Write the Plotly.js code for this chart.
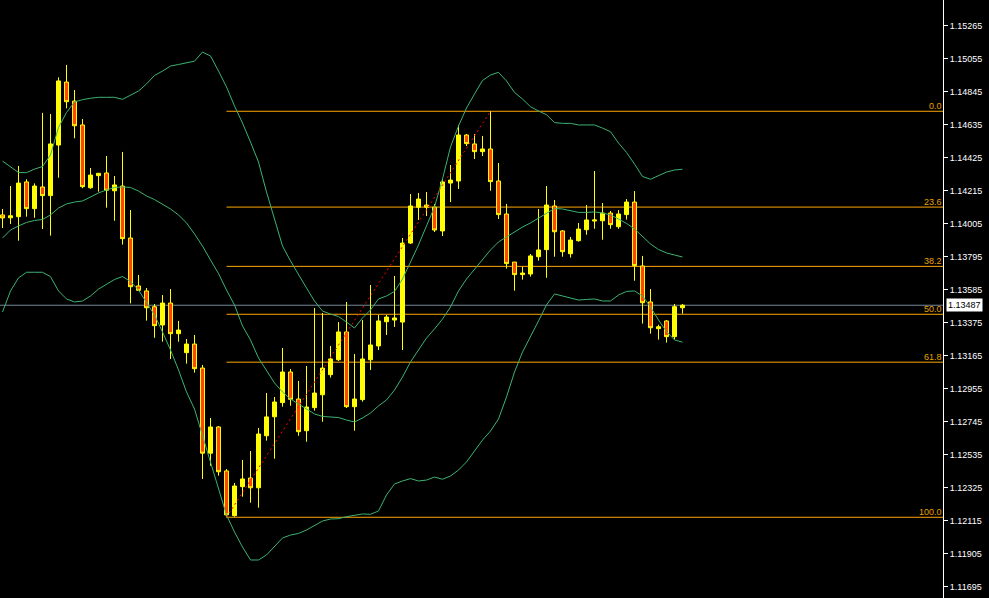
<!DOCTYPE html>
<html>
<head>
<meta charset="utf-8">
<script src="https://cdn.plot.ly/plotly-3.0.1.min.js"></script>
<style>
  html, body { margin: 0; padding: 0; background: #000; }
  #chart { width: 989px; height: 598px; }
</style>
</head>
<body>
<div id="chart"></div>
<script>
// EURUSD-style candles, one bar per index
const open = [
  1.14062, 1.14044, 1.14051, 1.14272, 1.14102, 1.14240, 1.14185, 1.14507, 1.14908, 1.14787,
  1.14635, 1.14235, 1.14312, 1.14329, 1.14216, 1.14246, 1.13915, 1.13610, 1.13578, 1.13478,
  1.13361, 1.13501, 1.13306, 1.13185, 1.13240, 1.13087, 1.12545, 1.12712, 1.12432, 1.12147,
  1.12332, 1.12387, 1.12325, 1.12656, 1.12777, 1.12867, 1.13062, 1.12890, 1.12688, 1.12835,
  1.12917, 1.13045, 1.13140, 1.13317, 1.12841, 1.12886, 1.13140, 1.13228, 1.13382, 1.13393,
  1.13380, 1.13883, 1.14111, 1.14125, 1.14112, 1.13960, 1.14265, 1.14278, 1.14571, 1.14514,
  1.14465, 1.14482, 1.14278, 1.14068, 1.13762, 1.13682, 1.13686, 1.13796, 1.13841, 1.14119,
  1.13960, 1.13815, 1.13898, 1.13968, 1.14023, 1.14025, 1.14074, 1.13987, 1.14064, 1.14144,
  1.13737, 1.13508, 1.13338, 1.13387, 1.13287, 1.13471
];
const high = [
  1.14100, 1.14246, 1.14374, 1.14289, 1.14263, 1.14712, 1.14705, 1.14938, 1.15017, 1.14857,
  1.14673, 1.14361, 1.14327, 1.14437, 1.14310, 1.14463, 1.14093, 1.13680, 1.13597, 1.13495,
  1.13552, 1.13590, 1.13387, 1.13272, 1.13298, 1.13107, 1.12769, 1.12718, 1.12444, 1.12355,
  1.12502, 1.12559, 1.12705, 1.12928, 1.12903, 1.13215, 1.13081, 1.13005, 1.13100, 1.13469,
  1.13438, 1.13228, 1.13380, 1.13508, 1.13177, 1.13393, 1.13616, 1.13425, 1.13425, 1.13673,
  1.13915, 1.14195, 1.14202, 1.14208, 1.14132, 1.14291, 1.14380, 1.14635, 1.14577, 1.14577,
  1.14565, 1.14722, 1.14393, 1.14132, 1.13762, 1.13732, 1.13813, 1.14100, 1.14246, 1.14157,
  1.13966, 1.13922, 1.14011, 1.14125, 1.14342, 1.14138, 1.14087, 1.14093, 1.14163, 1.14214,
  1.13801, 1.13590, 1.13363, 1.13393, 1.13495, 1.13495
];
const low = [
  1.13979, 1.14004, 1.13898, 1.14051, 1.14044, 1.13972, 1.13930, 1.14299, 1.14741, 1.14550,
  1.14232, 1.14229, 1.14210, 1.14108, 1.14025, 1.13873, 1.13499, 1.13578, 1.13389, 1.13280,
  1.13255, 1.13145, 1.13255, 1.13115, 1.13058, 1.12381, 1.12465, 1.12402, 1.12137, 1.12141,
  1.12268, 1.12230, 1.12198, 1.12625, 1.12510, 1.12841, 1.12847, 1.12656, 1.12618, 1.12816,
  1.12745, 1.13026, 1.13132, 1.12833, 1.12688, 1.12873, 1.13075, 1.13202, 1.13298, 1.13349,
  1.13202, 1.13877, 1.14030, 1.14055, 1.13953, 1.13928, 1.14144, 1.14227, 1.14501, 1.14418,
  1.14437, 1.14216, 1.14036, 1.13720, 1.13580, 1.13650, 1.13669, 1.13771, 1.13662, 1.13796,
  1.13796, 1.13790, 1.13892, 1.13936, 1.13974, 1.13904, 1.13974, 1.13974, 1.14032, 1.13643,
  1.13370, 1.13306, 1.13268, 1.13249, 1.13268, 1.13433
];
const close = [
  1.14043, 1.14057, 1.14265, 1.14102, 1.14246, 1.14185, 1.14514, 1.14915, 1.14783, 1.14630,
  1.14242, 1.14316, 1.14327, 1.14219, 1.14253, 1.13911, 1.13605, 1.13582, 1.13471, 1.13357,
  1.13501, 1.13306, 1.13329, 1.13240, 1.13083, 1.12545, 1.12712, 1.12427, 1.12152, 1.12336,
  1.12381, 1.12325, 1.12667, 1.12776, 1.12871, 1.13062, 1.12888, 1.12682, 1.12839, 1.12928,
  1.13087, 1.13145, 1.13317, 1.12841, 1.12890, 1.13145, 1.13234, 1.13387, 1.13412, 1.13406,
  1.13883, 1.14119, 1.14163, 1.14111, 1.13966, 1.14272, 1.14284, 1.14571, 1.14516, 1.14465,
  1.14482, 1.14274, 1.14064, 1.13752, 1.13682, 1.13692, 1.13801, 1.13839, 1.14125, 1.13955,
  1.13828, 1.13902, 1.13972, 1.14030, 1.14030, 1.14074, 1.14000, 1.14068, 1.14144, 1.13739,
  1.13503, 1.13344, 1.13350, 1.13287, 1.13478, 1.13487
];

// Bollinger bands (upper / middle / lower), one value per bar
const bbUpper = [
  1.14405, 1.14369, 1.14332, 1.14331, 1.14354, 1.14370, 1.14444, 1.14619, 1.14714, 1.14781,
  1.14796, 1.14805, 1.14811, 1.14811, 1.14811, 1.14798, 1.14824, 1.14851, 1.14896, 1.14950,
  1.14978, 1.15010, 1.15020, 1.15029, 1.15041, 1.15099, 1.15074, 1.14978, 1.14877, 1.14756,
  1.14647, 1.14526, 1.14399, 1.14208, 1.14030, 1.13864, 1.13769, 1.13680, 1.13597, 1.13514,
  1.13450, 1.13431, 1.13415, 1.13380, 1.13342, 1.13406, 1.13457, 1.13527, 1.13546, 1.13575,
  1.13654, 1.13762, 1.13871, 1.13992, 1.14113, 1.14291, 1.14495, 1.14628, 1.14743, 1.14832,
  1.14918, 1.14953, 1.14970, 1.14915, 1.14842, 1.14800, 1.14751, 1.14724, 1.14700, 1.14650,
  1.14645, 1.14645, 1.14635, 1.14635, 1.14635, 1.14615, 1.14592, 1.14520, 1.14460, 1.14386,
  1.14307, 1.14289, 1.14310, 1.14335, 1.14348, 1.14353
];
const bbMiddle = [
  1.13915, 1.13966, 1.13992, 1.14014, 1.14027, 1.14033, 1.14062, 1.14106, 1.14132, 1.14144,
  1.14151, 1.14176, 1.14202, 1.14221, 1.14237, 1.14240, 1.14237, 1.14214, 1.14183, 1.14160,
  1.14132, 1.14100, 1.14062, 1.14011, 1.13941, 1.13864, 1.13775, 1.13689, 1.13584, 1.13489,
  1.13355, 1.13266, 1.13151, 1.13075, 1.12992, 1.12935, 1.12890, 1.12858, 1.12826, 1.12795,
  1.12779, 1.12775, 1.12772, 1.12756, 1.12744, 1.12769, 1.12801, 1.12846, 1.12884, 1.12947,
  1.13030, 1.13126, 1.13202, 1.13278, 1.13336, 1.13399, 1.13476, 1.13578, 1.13654, 1.13718,
  1.13782, 1.13839, 1.13890, 1.13922, 1.13957, 1.13985, 1.14011, 1.14043, 1.14072, 1.14103,
  1.14100, 1.14087, 1.14078, 1.14078, 1.14081, 1.14074, 1.14062, 1.14036, 1.14008, 1.13973,
  1.13922, 1.13877, 1.13842, 1.13820, 1.13807, 1.13794
];
const bbLower = [
  1.13444, 1.13578, 1.13661, 1.13697, 1.13697, 1.13697, 1.13669, 1.13578, 1.13527, 1.13508,
  1.13514, 1.13546, 1.13590, 1.13622, 1.13651, 1.13670, 1.13638, 1.13584, 1.13508, 1.13425,
  1.13317, 1.13202, 1.13075, 1.12935, 1.12826, 1.12661, 1.12483, 1.12323, 1.12151, 1.12043,
  1.11948, 1.11865, 1.11865, 1.11897, 1.11954, 1.12005, 1.12024, 1.12034, 1.12056, 1.12082,
  1.12113, 1.12126, 1.12128, 1.12141, 1.12148, 1.12158, 1.12156, 1.12177, 1.12279, 1.12349,
  1.12368, 1.12383, 1.12368, 1.12374, 1.12393, 1.12379, 1.12400, 1.12438, 1.12489, 1.12559,
  1.12629, 1.12686, 1.12763, 1.12903, 1.13062, 1.13189, 1.13285, 1.13387, 1.13489, 1.13559,
  1.13546, 1.13533, 1.13520, 1.13524, 1.13527, 1.13514, 1.13514, 1.13552, 1.13575, 1.13578,
  1.13546, 1.13476, 1.13393, 1.13320, 1.13266, 1.13252
];

// Price scale labels on the right
const priceTicks = [
  "1.15265", "1.15055", "1.14845", "1.14635", "1.14425", "1.14215", "1.14005", "1.13795", "1.13585",
  "1.13375", "1.13165", "1.12955", "1.12745", "1.12535", "1.12325", "1.12115", "1.11905", "1.11695"
];

// Fibonacci retracement, drawn from the swing low bar to the swing high bar
const fibRatios = [0, 0.236, 0.382, 0.5, 0.618, 1.0];
const fibLabels = ["0.0", "23.6", "38.2", "50.0", "61.8", "100.0"];
const fibLowBar = 28;
const fibHighBar = 61;

const idx = open.map((_, i) => i);
const xRange = [-0.3125, 117.5625];
const yRange = [1.11623, 1.154305];

const fibLow = low[fibLowBar];
const fibHigh = high[fibHighBar];
const fibLevels = fibRatios.map(r => fibHigh - r * (fibHigh - fibLow));
const lastPrice = close[close.length - 1];

const bandStyle = { color: '#3CB371', width: 1 };

const traces = [
  { type: 'scatter', mode: 'lines', x: idx, y: bbUpper, line: bandStyle, hoverinfo: 'skip' },
  { type: 'scatter', mode: 'lines', x: idx, y: bbMiddle, line: bandStyle, hoverinfo: 'skip' },
  { type: 'scatter', mode: 'lines', x: idx, y: bbLower, line: bandStyle, hoverinfo: 'skip' },
  {
    type: 'scatter', mode: 'lines',
    x: [fibLowBar, fibHighBar], y: [fibLow, fibHigh],
    line: { color: '#FF0000', width: 1, dash: '2px,3px' }, hoverinfo: 'skip'
  },
  {
    type: 'candlestick', x: idx, open: open, high: high, low: low, close: close,
    whiskerwidth: 0,
    increasing: { line: { color: '#FFFF00', width: 1 }, fillcolor: '#FFFF00' },
    decreasing: { line: { color: '#FFFF00', width: 1 }, fillcolor: '#FF4500' },
    hoverinfo: 'skip'
  }
];

const shapes = fibLevels.map(v => ({
  type: 'line', layer: 'below', xref: 'x', yref: 'y',
  x0: fibLowBar, x1: xRange[1], y0: v, y1: v,
  line: { color: '#FFA500', width: 1 }
}));
shapes.push({
  type: 'line', layer: 'below', xref: 'paper', yref: 'y',
  x0: 0, x1: 1, y0: lastPrice, y1: lastPrice,
  line: { color: '#778899', width: 1 }
});

const annotations = fibLevels.map((v, i) => ({
  xref: 'paper', yref: 'y', x: 1, y: v,
  xanchor: 'right', yanchor: 'bottom', yshift: -1,
  text: fibLabels[i], showarrow: false, borderpad: 0,
  font: { family: 'Liberation Sans, Arial, sans-serif', size: 9, color: '#E6A000' }
}));
annotations.push({
  xref: 'paper', yref: 'y', x: 1, y: lastPrice,
  xanchor: 'left', yanchor: 'middle', xshift: 3,
  text: lastPrice.toFixed(5), showarrow: false, borderpad: 1,
  bgcolor: '#FFFFFF',
  font: { family: 'Liberation Sans, Arial, sans-serif', size: 9, color: '#000000' }
});

const layout = {
  width: 989, height: 598,
  margin: { l: 0, r: 46, t: 0, b: 0, pad: 0 },
  paper_bgcolor: '#000000', plot_bgcolor: '#000000',
  showlegend: false,
  boxgap: 0.5, boxgroupgap: 0,
  xaxis: {
    range: xRange, visible: false, showgrid: false, zeroline: false,
    rangeslider: { visible: false }, fixedrange: true
  },
  yaxis: {
    range: yRange, side: 'right', showgrid: false, zeroline: false,
    showline: true, linecolor: '#FFFFFF', linewidth: 1,
    ticks: 'outside', ticklen: 4, tickcolor: '#FFFFFF',
    tickvals: priceTicks.map(Number), ticktext: priceTicks,
    tickfont: { family: 'Liberation Sans, Arial, sans-serif', size: 9, color: '#FFFFFF' },
    automargin: false, fixedrange: true
  },
  shapes: shapes,
  annotations: annotations
};

Plotly.newPlot('chart', traces, layout, { displayModeBar: false, staticPlot: true });
</script>
</body>
</html>
